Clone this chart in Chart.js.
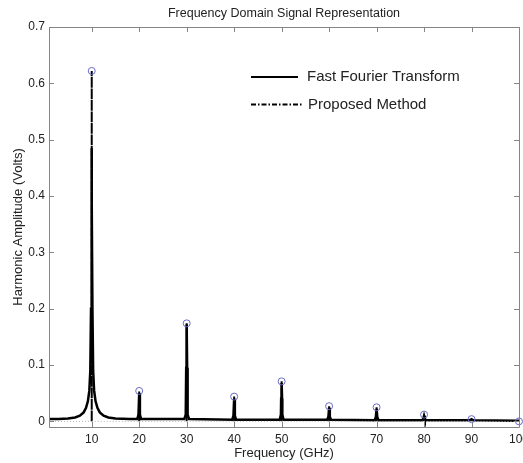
<!DOCTYPE html>
<html>
<head>
<meta charset="utf-8">
<script src="https://cdn.jsdelivr.net/npm/chart.js@4/dist/chart.umd.min.js"></script>
<style>
html, body { margin: 0; padding: 0; overflow: hidden; background: #fff; }
</style>
</head>
<body>
<canvas id="myChart" width="529" height="463"></canvas>
<script>
const chartTitle = 'Frequency Domain Signal Representation';
const xTitle = 'Frequency (GHz)';
const yTitle = 'Harmonic Amplitude (Volts)';

const xTicks = [10, 20, 30, 40, 50, 60, 70, 80, 90, 100];
const yTicks = [0, 0.1, 0.2, 0.3, 0.4, 0.5, 0.6, 0.7];
const yTickLabels = ['0', '0.1', '0.2', '0.3', '0.4', '0.5', '0.6', '0.7'];

// proposed method: one amplitude per harmonic
const harmonicFreq = [10, 20, 30, 40, 50, 60, 70, 80, 90, 100];
const proposedAmp = [0.622, 0.054, 0.174, 0.044, 0.071, 0.027, 0.025, 0.012, 0.004, 0.0];

// FFT spectrum
const fftFreq = [
    1, 3, 5, 6.5, 7.5, 8.3, 8.8, 9.2, 9.5, 9.7, 9.85, 9.95, 10, 10.05, 10.15, 10.3, 10.5, 10.8, 11.2, 11.7, 12.5, 13.5, 15, 18,
    19.6, 19.85, 20, 20.15, 20.4,
    29.5, 29.8, 29.9, 30, 30.1, 30.2, 30.5,
    39.6, 39.85, 40, 40.15, 40.4,
    49.6, 49.85, 49.9, 50, 50.1, 50.15, 50.4,
    59.6, 59.85, 60, 60.15, 60.4,
    69.6, 69.85, 70, 70.15, 70.4,
    79.6, 79.85, 80, 80.15, 80.4,
    89.6, 90, 90.4,
    99.6, 100
];
const fftAmp = [
    0.004, 0.004, 0.005, 0.007, 0.010, 0.016, 0.024, 0.036, 0.055, 0.09, 0.2, 0.39, 0.485, 0.39, 0.2, 0.09, 0.055, 0.036, 0.024, 0.016, 0.010, 0.007, 0.005, 0.004,
    0.004, 0.012, 0.050, 0.012, 0.004,
    0.004, 0.012, 0.095, 0.172, 0.095, 0.012, 0.004,
    0.003, 0.010, 0.040, 0.010, 0.003,
    0.003, 0.012, 0.040, 0.068, 0.040, 0.012, 0.003,
    0.003, 0.008, 0.024, 0.008, 0.003,
    0.002, 0.008, 0.022, 0.008, 0.002,
    0.002, 0.005, 0.010, 0.005, 0.002,
    0.002, 0.004, 0.002,
    0.001, 0.001
];

const fftPoints = fftFreq.map((f, i) => ({x: f, y: fftAmp[i]}));
const circlePoints = harmonicFreq.map((f, i) => ({x: f, y: proposedAmp[i]}));
const proposedPoints = [{x: 1, y: 0}];
harmonicFreq.forEach((f, i) => {
    proposedPoints.push({x: f, y: 0}, {x: f, y: proposedAmp[i]}, {x: f, y: 0});
});

const isFlat = ctx => ctx.p0.parsed.y === 0 && ctx.p1.parsed.y === 0;

Chart.defaults.font.family = '"Liberation Sans", Arial, sans-serif';
Chart.defaults.color = '#222';

const boxColor = '#858585';

const framePlugin = {
    id: 'frame',
    afterDraw(chart) {
        const c = chart.ctx;
        const a = chart.chartArea;
        const xs = chart.scales.x;
        const ys = chart.scales.y;
        c.save();
        c.strokeStyle = boxColor;
        c.lineWidth = 1;
        c.beginPath();
        c.rect(Math.round(a.left) + 0.5, Math.round(a.top) + 0.5, Math.round(a.right - a.left), Math.round(a.bottom - a.top));
        xTicks.forEach(v => {
            const px = Math.round(xs.getPixelForValue(v)) + 0.5;
            c.moveTo(px, a.bottom); c.lineTo(px, a.bottom - 5);
            c.moveTo(px, a.top); c.lineTo(px, a.top + 5);
        });
        yTicks.forEach(v => {
            const py = Math.round(ys.getPixelForValue(v)) + 0.5;
            c.moveTo(a.left, py); c.lineTo(a.left + 5, py);
            c.moveTo(a.right, py); c.lineTo(a.right - 5, py);
        });
        c.stroke();

        // title
        c.fillStyle = '#222';
        c.font = '12.5px "Liberation Sans", Arial, sans-serif';
        c.textAlign = 'center';
        c.textBaseline = 'middle';
        c.fillText(chartTitle, (a.left + a.right) / 2, 14);

        // legend inside the plot
        const rows = [chart.data.datasets[0], chart.data.datasets[1]];
        c.font = '15px "Liberation Sans", Arial, sans-serif';
        c.textAlign = 'left';
        rows.forEach((ds, i) => {
            const y = 77 + i * 27.5;
            const x0 = a.left + 202;
            c.beginPath();
            c.strokeStyle = '#000';
            c.lineWidth = 2;
            c.setLineDash(ds.legendDash || []);
            c.moveTo(x0, y);
            c.lineTo(x0 + (i === 0 ? 47 : 52), y);
            c.stroke();
            c.setLineDash([]);
            c.fillText(ds.label, x0 + (i === 0 ? 56 : 57), y);
        });
        c.restore();
    }
};

const chart = new Chart(document.getElementById('myChart'), {
    type: 'scatter',
    data: {
        datasets: [{
            label: 'Fast Fourier Transform',
            data: fftPoints,
            showLine: true,
            borderColor: '#000',
            borderWidth: 2.5,
            pointRadius: 0,
            tension: 0,
            order: 3
        }, {
            label: 'Proposed Method',
            data: proposedPoints,
            showLine: true,
            borderColor: '#000',
            borderWidth: 2,
            borderDash: [6, 2, 1.5, 2],
            legendDash: [5, 2, 1.5, 2],
            pointRadius: 0,
            tension: 0,
            order: 2,
            segment: {
                borderColor: ctx => isFlat(ctx) ? '#b5b5b5' : '#000',
                borderWidth: ctx => isFlat(ctx) ? 1 : 2,
                borderDash: ctx => isFlat(ctx) ? [1, 2] : [6, 2, 1.5, 2]
            }
        }, {
            label: 'Harmonics',
            data: circlePoints,
            showLine: false,
            pointStyle: 'circle',
            pointRadius: 3.5,
            pointBorderWidth: 1,
            pointBorderColor: '#6b6bc4',
            pointBackgroundColor: 'rgba(0,0,0,0)',
            clip: false,
            order: 1
        }]
    },
    options: {
        responsive: false,
        animation: false,
        layout: { padding: { top: 27, right: 10 } },
        plugins: {
            legend: { display: false },
            title: { display: false },
            tooltip: { enabled: false }
        },
        scales: {
            x: {
                type: 'linear',
                min: 1,
                max: 100,
                grid: { display: false, drawTicks: false },
                border: { display: false },
                afterBuildTicks: s => { s.ticks = xTicks.map(v => ({value: v})); },
                afterFit: s => { s.height = 36; s.paddingLeft = 0; s.paddingRight = 0; },
                ticks: { autoSkip: false, padding: 5, font: { size: 12 }, maxRotation: 0 },
                title: { display: true, text: xTitle, font: { size: 13 }, padding: { top: 0, bottom: 2 } }
            },
            y: {
                type: 'linear',
                min: -0.01,
                max: 0.7,
                grid: { display: false, drawTicks: false },
                border: { display: false },
                afterBuildTicks: s => { s.ticks = yTicks.map(v => ({value: v})); },
                afterFit: s => { s.width = 49; },
                ticks: { autoSkip: false, padding: 4, font: { size: 12 }, callback: (v, i) => yTickLabels[i] },
                title: { display: true, text: yTitle, font: { size: 13 }, padding: { top: 11, bottom: 0 } }
            }
        }
    },
    plugins: [framePlugin]
});
</script>
</body>
</html>
